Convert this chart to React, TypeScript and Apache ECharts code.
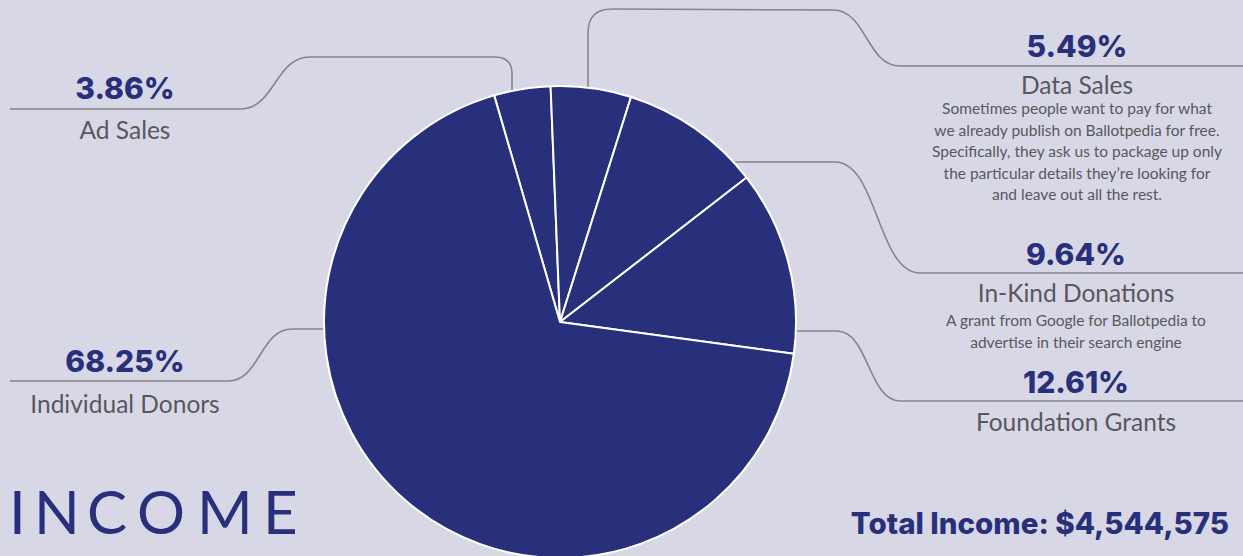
import React, { useEffect, useRef } from "react";
import * as echarts from "echarts";

const categories = ["Ad Sales", "Data Sales", "In-Kind Donations", "Foundation Grants", "Individual Donors"];
const shares = [3.86, 5.49, 9.64, 12.61, 68.25];
const descriptions: string[][] = [
  [],
  [
    "Sometimes people want to pay for what",
    "we already publish on Ballotpedia for free.",
    "Specifically, they ask us to package up only",
    "the particular details they\u2019re looking for",
    "and leave out all the rest.",
  ],
  ["A grant from Google for Ballotpedia to", "advertise in their search engine"],
  [],
  [],
];
const titleText = "INCOME";
const totalIncome = 4544575;

const BG = "#d8d7e6";
const NAVY = "#28307c";
const GRAY = "#58585c";
const LINE = "#858588";

// label layout: [centerX, percentY, nameY, firstDescY]
const labelPos: Record<string, [number, number, number, number]> = {
  "Ad Sales": [125, 88, 129, 0],
  "Data Sales": [1077, 46, 84, 108],
  "In-Kind Donations": [1076, 254, 292, 320],
  "Foundation Grants": [1076, 382, 421, 0],
  "Individual Donors": [125, 361, 403, 0],
};

type Seg = any;
const lineStyle = { stroke: LINE, lineWidth: 1.6, fill: null };
const L = (x1: number, y1: number, x2: number, y2: number): Seg => ({
  type: "line",
  z: 0,
  shape: { x1, y1, x2, y2 },
  style: lineStyle,
});
const S = (x1: number, y1: number, x2: number, y2: number): Seg => {
  const m = (x1 + x2) / 2;
  return {
    type: "bezierCurve",
    z: 0,
    shape: { x1, y1, x2, y2, cpx1: m, cpy1: y1, cpx2: m, cpy2: y2 },
    style: lineStyle,
  };
};
const Q = (x1: number, y1: number, cx: number, cy: number, x2: number, y2: number): Seg => ({
  type: "bezierCurve",
  z: 0,
  shape: { x1, y1, x2, y2, cpx1: cx, cpy1: cy },
  style: lineStyle,
});

export default function App() {
  const ref = useRef<HTMLDivElement>(null);
  useEffect(() => {
    document.body.style.margin = "0";
    document.body.style.background = BG;
    const chart = echarts.init(ref.current!, null, { renderer: "svg" });

    const elements: any[] = [];
    // leader lines
    elements.push(
      // Ad Sales
      L(10, 109, 240, 109),
      S(240, 109, 310, 57),
      L(310, 57, 495, 57),
      Q(495, 57, 512, 57, 512, 74),
      L(512, 74, 512, 92),
      // Data Sales
      L(588, 90, 588, 33),
      Q(588, 33, 588, 9, 612, 9),
      L(612, 9, 833, 10),
      S(833, 10, 900, 66),
      L(900, 66, 1243, 66),
      // In-Kind
      L(735, 162, 835, 162),
      S(835, 162, 920, 273),
      L(920, 273, 1243, 273),
      // Foundation
      L(794, 331, 837, 331),
      S(837, 331, 900, 401),
      L(900, 401, 1243, 401),
      // Individual
      L(10, 381, 228, 381),
      S(228, 381, 292, 329),
      L(292, 329, 326, 329)
    );

    categories.forEach((name, i) => {
      const [cx, py, ny, dy] = labelPos[name];
      elements.push({
        type: "text",
        z: 10,
        x: cx,
        y: py,
        style: {
          text: shares[i].toFixed(2) + "%",
          fill: NAVY,
          font: "800 30px Inter",
          textAlign: "center",
          textVerticalAlign: "middle",
        },
      });
      elements.push({
        type: "text",
        z: 10,
        x: cx,
        y: ny,
        style: {
          text: name,
          fill: GRAY,
          font: "400 24.5px Lato",
          textAlign: "center",
          textVerticalAlign: "middle",
        },
      });
      descriptions[i].forEach((line, k) => {
        elements.push({
          type: "text",
          z: 10,
          x: cx,
          y: dy + k * 21.5,
          style: {
            text: line,
            fill: GRAY,
            font: "400 15.5px Lato",
            textAlign: "center",
            textVerticalAlign: "middle",
          },
        });
      });
    });

    // title letters (spaced)
    const letterX = [9, 34, 87, 137, 197, 263];
    titleText.split("").forEach((ch, k) => {
      elements.push({
        type: "text",
        z: 10,
        x: letterX[k],
        y: 511,
        style: {
          text: ch,
          fill: NAVY,
          font: "400 60px Lato",
          textAlign: "left",
          textVerticalAlign: "middle",
        },
      });
    });

    elements.push({
      type: "text",
      z: 10,
      x: 1229,
      y: 523,
      style: {
        text: "Total Income: $" + totalIncome.toLocaleString("en-US"),
        fill: NAVY,
        font: "800 29.5px Inter",
        textAlign: "right",
        textVerticalAlign: "middle",
      },
    });

    chart.setOption({
      animation: false,
      backgroundColor: BG,
      graphic: { elements },
      series: [
        {
          type: "pie",
          center: [560, 322],
          radius: 236,
          startAngle: 106.2,
          clockwise: true,
          silent: true,
          z: 5,
          label: { show: false },
          labelLine: { show: false },
          itemStyle: { color: NAVY, borderColor: "#ffffff", borderWidth: 2 },
          data: categories.map((name, i) => ({ name, value: shares[i] })),
        },
      ],
    });
    return () => chart.dispose();
  }, []);
  return <div ref={ref} style={{ width: 1243, height: 556 }} />;
}
